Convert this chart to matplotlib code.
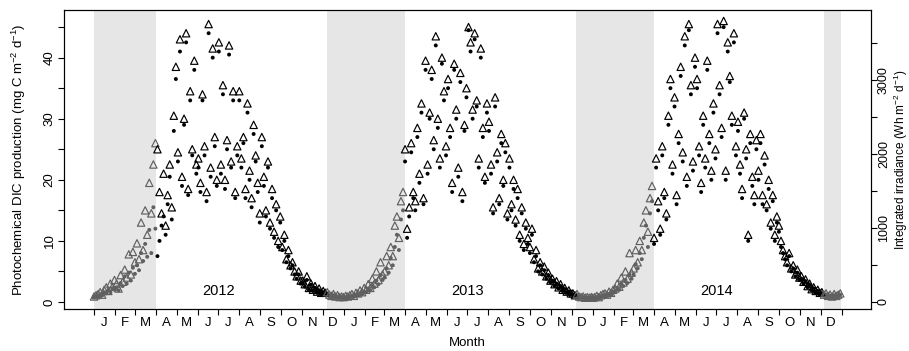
import numpy as np
import pandas as pd
import matplotlib
matplotlib.use("Agg")
import matplotlib.pyplot as plt
from matplotlib.ticker import FixedLocator, NullFormatter

plt.rcParams["font.family"] = ["Liberation Sans", "DejaVu Sans"]
plt.rcParams["mathtext.fontset"] = "custom"
plt.rcParams["mathtext.rm"] = "Liberation Sans"
plt.rcParams["mathtext.it"] = "Liberation Sans:italic"

# values, one sample every 3 days from 1 Jan of each year
dic_2012 = [0.8, 0.9, 1.0, 1.2, 1.1, 1.5, 1.4, 1.9, 1.6, 2.2, 2.0,
            2.4, 1.9, 3.1, 2.6, 4.2, 3.0, 4.8, 3.5, 5.6,
            4.6, 6.0, 5.2, 8.0, 6.7, 9.5, 7.4, 11.8, 8.0, 15.5, 12.0,
            7.5, 10.0, 12.5, 14.0, 11.0, 16.0, 20.5, 13.5, 28.0, 36.5,
            23.0, 41.0, 19.0, 29.0, 42.5, 17.5, 33.0, 24.0, 38.0, 21.0,
            22.0, 18.0, 33.0, 24.0, 16.5, 44.0, 20.5, 40.0, 25.5, 19.0,
            41.0, 21.0, 34.0, 18.5, 25.0, 40.5, 22.0, 33.0, 17.0, 24.0,
            33.0, 22.0, 26.0, 17.0, 31.0, 20.0, 15.5, 27.5, 23.0, 18.0, 13.0,
            25.5, 19.0, 14.0, 22.0, 12.0, 17.0, 10.5, 15.0, 9.0, 13.0,
            8.5, 10.0, 6.5, 7.5, 5.5, 6.0, 4.5, 3.8, 4.5, 3.0,
            3.2, 2.5, 3.6, 2.0, 2.8, 1.8, 2.3, 1.5, 1.9, 1.3,
            1.6, 1.2, 1.4, 1.0, 0.9, 1.1, 0.8, 0.9, 0.7, 0.8]
irr_2012 = [74, 91, 107, 132, 99, 165, 198, 149, 248, 207, 297,
            248, 182, 363, 273, 438, 330, 644, 372, 677,
            537, 793, 578, 1074, 702, 1239, 909, 1611, 1198, 1859, 2148,
            2065, 1487, 1198, 1735, 1033, 1446, 1859, 1280, 2519, 3180,
            2024, 3552, 1693, 2478, 3634, 1528, 2850, 2065, 3263, 1859,
            1941, 1611, 2808, 2106, 1487, 3758, 1817, 3428, 2230, 1652,
            3511, 1859, 2932, 1652, 2189, 3469, 1900, 2850, 1487, 2106,
            2850, 1941, 2230, 1528, 2685, 1776, 1404, 2395, 1982, 1611, 1198,
            2230, 1693, 1239, 1900, 1074, 1528, 950, 1322, 826, 1156,
            743, 909, 578, 702, 496, 537, 413, 347, 413, 289,
            289, 240, 347, 190, 248, 165, 215, 140, 182, 124,
            149, 124, 132, 99, 83, 107, 74, 91, 66, 74]

dic_2013 = [0.7, 0.8, 0.7, 0.9, 1.0, 0.9, 1.2, 1.1, 1.4, 1.3, 1.7,
            1.6, 2.2, 1.9, 2.8, 2.4, 3.5, 2.9, 4.4, 3.6,
            4.0, 5.5, 4.8, 7.2, 6.0, 9.0, 11.0, 8.5, 13.5, 15.0,
            23.0, 10.5, 14.0, 24.5, 17.0, 15.0, 27.0, 19.5, 31.0, 16.0,
            38.0, 21.0, 30.0, 36.5, 25.0, 42.0, 28.5, 22.0, 39.0, 33.0, 24.0,
            35.0, 27.0, 18.0, 38.0, 30.0, 20.5, 36.0, 16.5, 28.0, 33.5,
            44.5, 41.0, 30.0, 43.0, 32.0, 22.0, 40.0, 27.0, 19.5, 31.0,
            28.0, 21.0, 14.5, 32.0, 23.0, 16.0, 26.0, 19.0, 24.5, 13.5,
            22.0, 15.0, 18.5, 12.5, 17.0, 10.0, 14.5, 8.5, 12.0, 9.5,
            8.0, 11.0, 6.5, 7.5, 5.0, 6.0, 4.5, 5.2, 3.8, 4.4, 3.2,
            3.5, 2.6, 3.0, 2.2, 2.6, 1.8, 2.1, 1.5, 1.7, 1.3,
            1.2, 1.0, 1.1, 0.8, 0.7, 0.8, 0.6, 0.7, 0.6, 0.7]
irr_2013 = [66, 83, 74, 91, 107, 83, 124, 116, 157, 132, 190,
            165, 240, 190, 314, 248, 413, 297, 537, 372,
            413, 620, 496, 743, 620, 1033, 1156, 867, 1363, 1487,
            2065, 991, 1280, 2148, 1487, 1363, 2354, 1735, 2685, 1404,
            3263, 1859, 2561, 3139, 2189, 3593, 2478, 1941, 3304, 2850, 2106,
            3015, 2354, 1611, 3221, 2602, 1817, 3098, 1487, 2395, 2891,
            3717, 3511, 2602, 3634, 2726, 1941, 3428, 2354, 1693, 2685,
            2437, 1859, 1280, 2767, 2024, 1404, 2272, 1652, 2148, 1198,
            1941, 1322, 1652, 1115, 1528, 909, 1280, 785, 1074, 867,
            743, 991, 578, 702, 454, 537, 413, 479, 347, 396, 289,
            314, 240, 281, 198, 240, 165, 190, 140, 157, 116,
            116, 91, 107, 74, 66, 74, 58, 66, 58, 66]

dic_2014 = [0.6, 0.7, 0.8, 0.7, 0.9, 1.0, 1.1, 1.0, 1.3, 1.2, 1.6,
            1.8, 2.3, 2.0, 3.0, 2.6, 3.6, 3.1, 4.5, 3.8,
            4.5, 6.2, 5.5, 8.0, 7.0, 10.5, 12.5, 9.0, 14.5, 16.5,
            9.5, 22.0, 15.0, 11.0, 24.0, 17.0, 13.5, 29.0, 35.0, 21.0,
            32.0, 16.0, 26.0, 37.0, 23.0, 42.0, 19.0, 44.5, 34.0, 21.5, 38.5,
            35.0, 24.0, 18.0, 29.0, 22.0, 38.0, 26.0, 20.0, 31.0, 23.5,
            44.0, 34.0, 27.0, 45.0, 20.0, 41.0, 36.0, 29.0, 42.5, 24.0,
            28.0, 21.0, 17.0, 30.0, 23.5, 10.0, 26.0, 19.0, 16.0, 25.0,
            20.0, 26.0, 16.0, 22.5, 15.0, 18.5, 12.0, 16.5, 10.0, 13.0,
            11.5, 9.0, 8.0, 7.0, 6.0, 7.5, 5.0, 5.5, 4.2, 4.8, 3.6,
            3.8, 3.0, 3.4, 2.4, 2.8, 1.9, 2.2, 1.6, 1.8, 1.3,
            1.4, 1.1, 1.2, 0.9, 1.0, 0.8, 1.1, 0.9, 1.0, 1.2]
irr_2014 = [58, 66, 83, 66, 91, 107, 116, 99, 140, 124, 165,
            182, 248, 207, 330, 264, 413, 314, 661, 396,
            454, 702, 537, 826, 702, 1074, 1239, 950, 1404, 1569,
            867, 1941, 1363, 991, 2106, 1487, 1198, 2519, 3015, 1859,
            2767, 1446, 2272, 3180, 2024, 3593, 1693, 3758, 2932, 1900, 3304,
            3015, 2106, 1611, 2519, 1941, 3263, 2272, 1776, 2685, 2065,
            3758, 2932, 2354, 3800, 1776, 3511, 3056, 2519, 3634, 2106,
            2437, 1859, 1528, 2561, 2065, 909, 2272, 1693, 1446, 2189,
            1776, 2272, 1446, 1982, 1322, 1652, 1074, 1446, 909, 1156,
            1033, 826, 702, 620, 537, 661, 454, 496, 372, 438, 330,
            347, 273, 306, 215, 248, 173, 198, 149, 165, 124,
            132, 99, 116, 83, 99, 74, 107, 83, 99, 116]

years = [2012, 2013, 2014]
dic_series = [dic_2012, dic_2013, dic_2014]
irr_series = [irr_2012, irr_2013, irr_2014]
winter_spans = [("2012-01-01", "2012-04-01"), ("2012-12-07", "2013-04-01"),
                ("2013-12-07", "2014-04-01"), ("2014-12-06", "2014-12-31")]

GREY = "#606060"

fig = plt.figure(figsize=(9.09, 3.51), dpi=100)
ax = fig.add_axes([0.0704, 0.1197, 0.8878, 0.8518])
ax2 = ax.twinx()

for a, b in winter_spans:
    ax.axvspan(pd.Timestamp(a), pd.Timestamp(b), color="#e6e6e6", lw=0, zorder=0)

for yr, dic, irr in zip(years, dic_series, irr_series):
    dates = pd.date_range(f"{yr}-01-01", periods=len(dic), freq="3D")
    grey = np.zeros(len(dates), dtype=bool)
    for a, b in winter_spans:
        grey |= (dates >= pd.Timestamp(a)) & (dates < pd.Timestamp(b))
    cols = np.where(grey, GREY, "black")
    ax.scatter(dates, dic, marker="o", s=8, c=cols, linewidths=0, zorder=3)
    ax2.scatter(dates, irr, marker="^", s=28, facecolors="none",
                edgecolors=cols, linewidths=0.85, zorder=3)
    ax.text(pd.Timestamp(f"{yr}-07-01"), 1.8, str(yr), ha="center", va="center",
            fontsize=10.5)

ax.set_xlim(pd.Timestamp("2011-11-18"), pd.Timestamp("2015-02-13"))
ax.set_ylim(-1.15, 47.8)
ax2.set_ylim(-95, 3948)

# month ticks at month starts, letters mid-month
starts = pd.date_range("2012-01-01", "2015-01-01", freq="MS")
mids = pd.date_range("2012-01-01", "2014-12-01", freq="MS") + pd.Timedelta(days=15)
ax.xaxis.set_major_locator(FixedLocator(matplotlib.dates.date2num(starts)))
ax.xaxis.set_major_formatter(NullFormatter())
ax.xaxis.set_minor_locator(FixedLocator(matplotlib.dates.date2num(mids)))
ax.set_xticklabels([d.strftime("%b")[0] for d in mids], minor=True)
ax.tick_params(axis="x", which="major", length=4, width=0.8)
ax.tick_params(axis="x", which="minor", length=0, pad=6, labelsize=9.5)

ax.set_yticks(np.arange(0, 46, 5))
ax.set_yticklabels(["0", "", "10", "", "20", "", "30", "", "40", ""])
ax2.set_yticks(np.arange(0, 3501, 500))
ax2.set_yticklabels(["0", "", "1000", "", "2000", "", "3000", ""])
ax.tick_params(axis="y", length=4, width=0.8, pad=2, labelsize=9.5)
ax2.tick_params(axis="y", length=4, width=0.8, pad=1, labelsize=9)
for a in (ax, ax2):
    for lab in a.get_yticklabels():
        lab.set_rotation(90)
        lab.set_va("center")
    for s in a.spines.values():
        s.set_linewidth(0.8)

ax.set_xlabel("Month", fontsize=9.5)
ax.xaxis.set_label_coords(0.5, -0.095)
ax.set_ylabel("Photochemical DIC production (mg C m$^{-2}$ d$^{-1}$)", fontsize=9.5)
ax.yaxis.set_label_coords(-0.045, 0.5)
ax2.set_ylabel("Integrated irradiance (Wh m$^{-2}$ d$^{-1}$)", fontsize=8.5)
ax2.yaxis.set_label_coords(1.0255, 0.5)

fig.savefig("out.png", dpi=100)
